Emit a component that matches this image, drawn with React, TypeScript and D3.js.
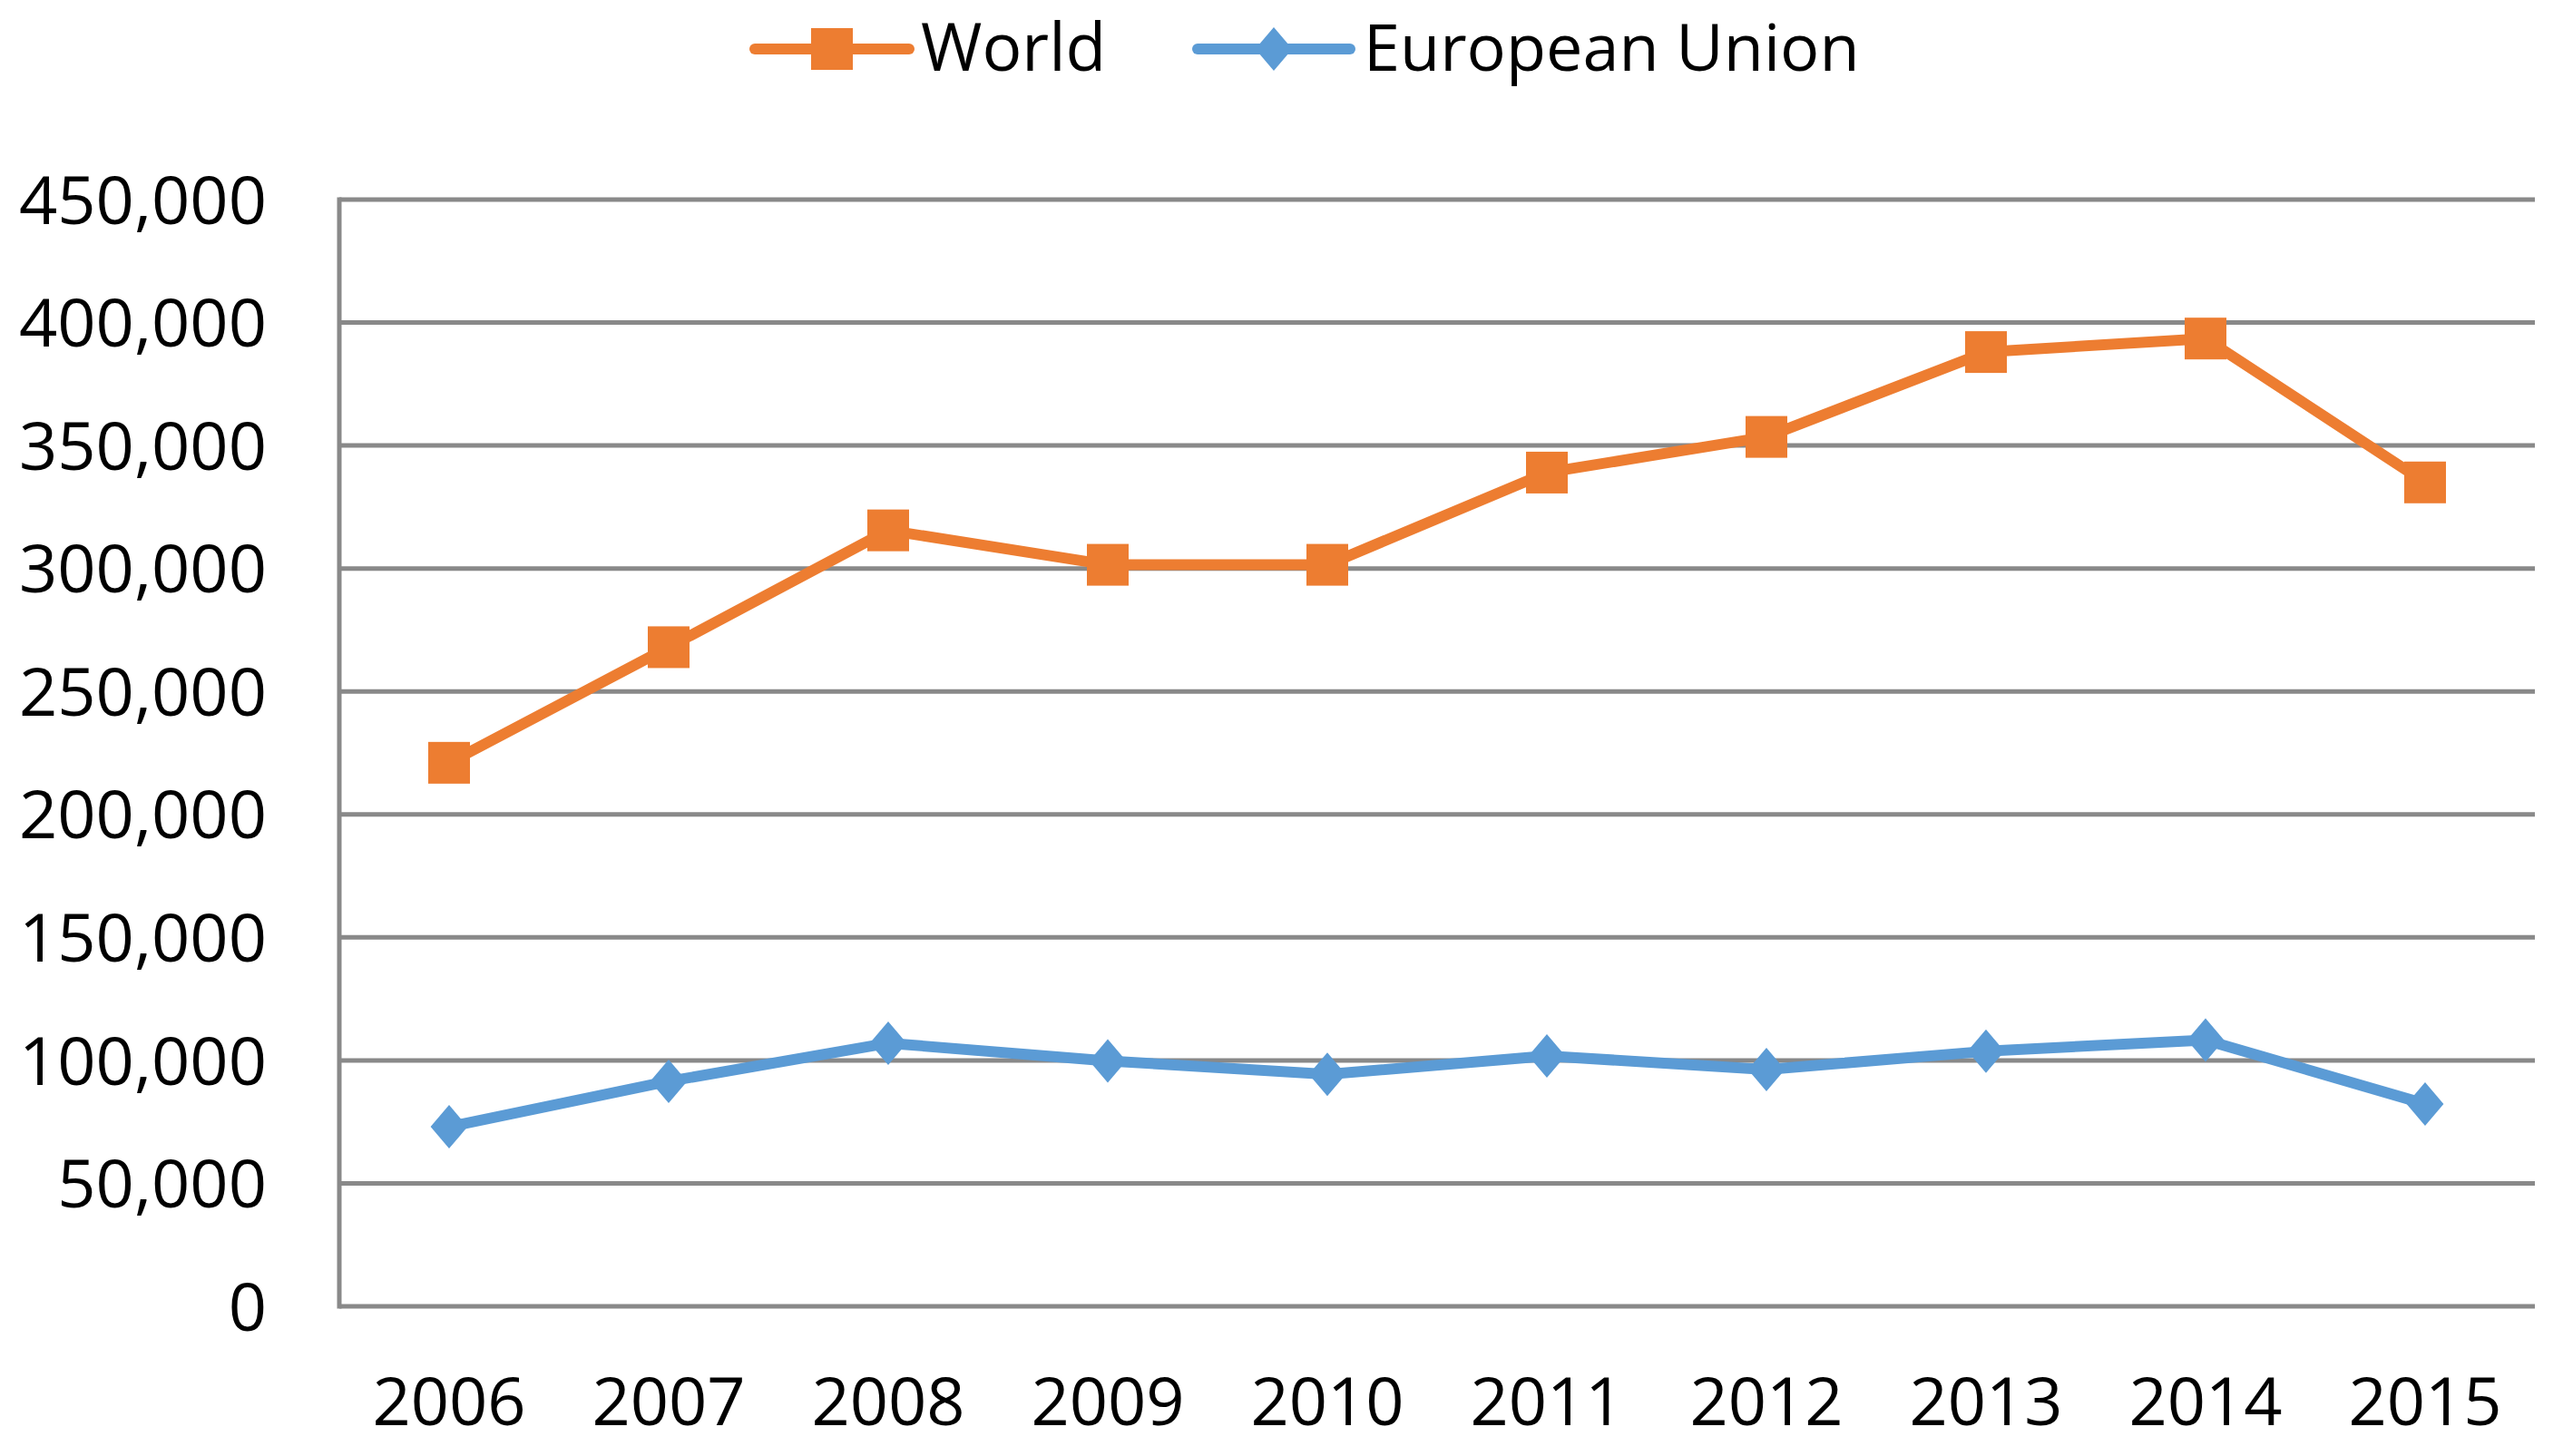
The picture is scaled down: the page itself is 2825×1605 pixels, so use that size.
import React from 'react';
import * as d3 from 'd3';

const years = ['2006', '2007', '2008', '2009', '2010', '2011', '2012', '2013', '2014', '2015'];
const world = [221000, 268000, 315500, 301500, 301500, 339000, 353500, 388000, 393500, 335000];
const eu = [73000, 91500, 107000, 99800, 94300, 101800, 96300, 103700, 108300, 82300];
const yTicks = [0, 50000, 100000, 150000, 200000, 250000, 300000, 350000, 400000, 450000];

const W = 2825;
const H = 1605;
const margin = {left: 374, right: 31, top: 220, bottom: 165};
const FONT = '"Open Sans", sans-serif';
const ORANGE = '#ED7D31';
const BLUE = '#5B9BD5';
const GRID = '#898989';

const App: React.FC = () => {
  const x = d3
    .scalePoint<string>()
    .domain(years)
    .range([margin.left, W - margin.right])
    .padding(0.5);
  const y = d3
    .scaleLinear()
    .domain([0, 450000])
    .range([H - margin.bottom, margin.top]);
  const fmt = d3.format(',');

  const line = d3
    .line<number>()
    .x((_, i) => x(years[i])!)
    .y((d) => y(d));

  const square = (cx: number, cy: number, s = 46) => (
    <rect x={cx - s / 2} y={cy - s / 2} width={s} height={s} fill={ORANGE} />
  );
  const diamond = (cx: number, cy: number, r = 24) => (
    <path
      d={`M${cx},${cy - r}L${cx + r * 0.85},${cy}L${cx},${cy + r}L${cx - r * 0.85},${cy}Z`}
      fill={BLUE}
    />
  );

  return (
    <svg
      width={W}
      height={H}
      style={{position: 'absolute', left: 0, top: 0, background: '#fff'}}
      fontFamily={FONT}
    >
      {/* gridlines */}
      {yTicks.map((t) => (
        <line
          key={t}
          x1={margin.left}
          x2={W - margin.right}
          y1={y(t)}
          y2={y(t)}
          stroke={GRID}
          strokeWidth={5}
        />
      ))}
      <line
        x1={margin.left}
        x2={margin.left}
        y1={y(450000) - 2.5}
        y2={y(0) + 2.5}
        stroke={GRID}
        strokeWidth={5}
      />
      {/* y tick labels */}
      {yTicks.map((t) => (
        <text
          key={t}
          x={294}
          y={y(t)}
          dy="0.36em"
          textAnchor="end"
          fontSize={74}
          fill="#000"
        >
          {fmt(t)}
        </text>
      ))}
      {/* x tick labels */}
      {years.map((yr) => (
        <text key={yr} x={x(yr)} y={1571} textAnchor="middle" fontSize={74} fill="#000">
          {yr}
        </text>
      ))}
      {/* series */}
      <path d={line(world)!} fill="none" stroke={ORANGE} strokeWidth={12} strokeLinejoin="round" />
      {world.map((v, i) => (
        <g key={i}>{square(x(years[i])!, y(v))}</g>
      ))}
      <path d={line(eu)!} fill="none" stroke={BLUE} strokeWidth={12} strokeLinejoin="round" />
      {eu.map((v, i) => (
        <g key={i}>{diamond(x(years[i])!, y(v))}</g>
      ))}
      {/* legend */}
      <line x1={832} x2={1002} y1={54} y2={54} stroke={ORANGE} strokeWidth={12} strokeLinecap="round" />
      {square(917, 54)}
      <text x={1015} y={78} fontSize={73} fill="#000">
        World
      </text>
      <line x1={1320} x2={1488} y1={54} y2={54} stroke={BLUE} strokeWidth={12} strokeLinecap="round" />
      {diamond(1404, 54)}
      <text x={1503} y={78} fontSize={72} fill="#000">
        European Union
      </text>
    </svg>
  );
};

export default App;
